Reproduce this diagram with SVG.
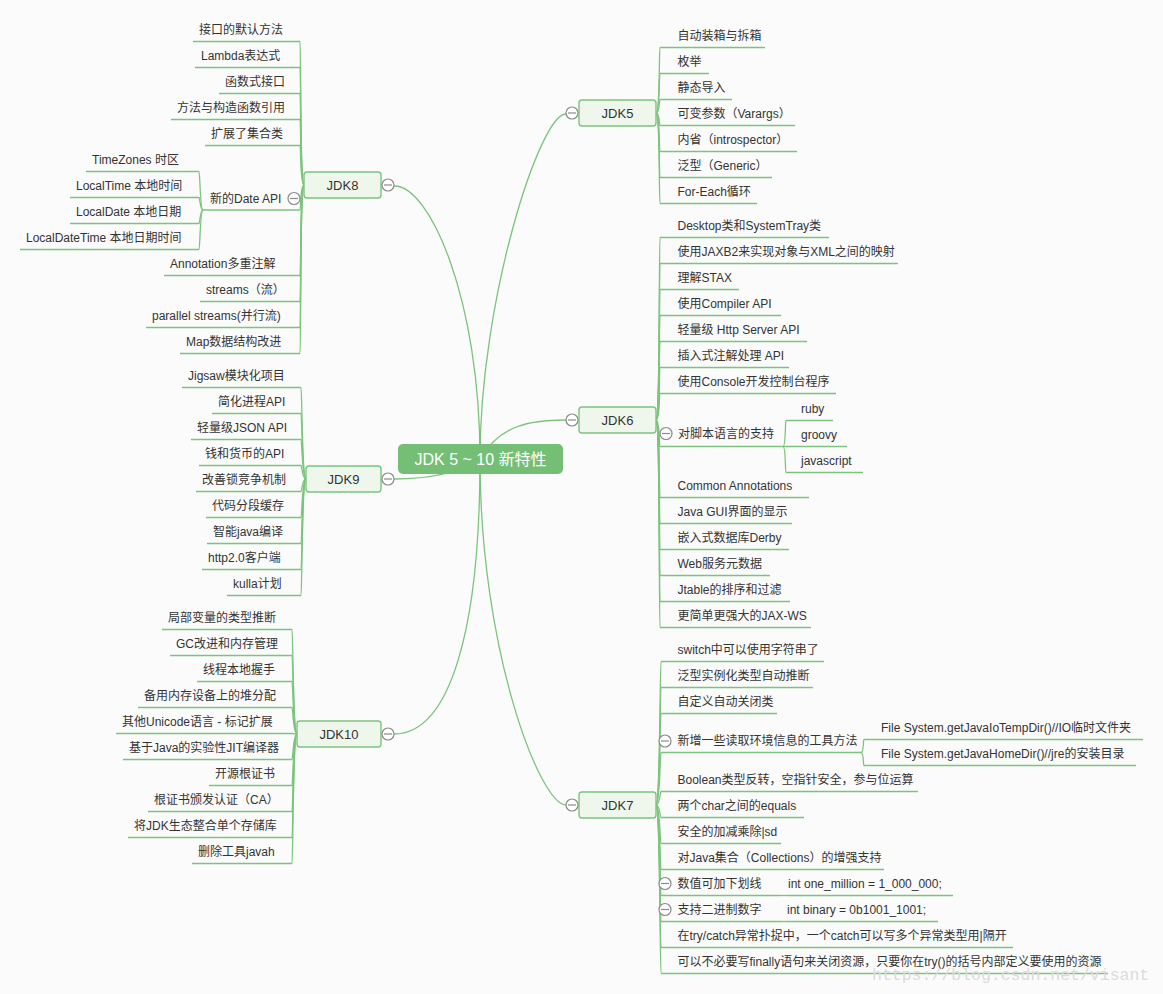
<svg xmlns="http://www.w3.org/2000/svg" width="1163" height="994" viewBox="0 0 1163 994">
<style>
.t{font-family:"Liberation Sans","Noto Sans CJK SC",sans-serif;font-size:12px;fill:#333}
.u{stroke:#7cc47d;stroke-width:1.3;fill:none}
.c path{stroke:#7cc47d;stroke-width:1.3;fill:none}
.nb{fill:#eff7ed;stroke:#7cc47d;stroke-width:1.4}
.nt{font-family:"Liberation Sans","Noto Sans CJK SC",sans-serif;font-size:13px;fill:#333;text-anchor:middle}
.rt{font-family:"Liberation Sans","Noto Sans CJK SC",sans-serif;font-size:16px;fill:#fff;text-anchor:middle}
.cb circle{fill:#fff;stroke:#8a8a8a;stroke-width:1.2}
.cb line{stroke:#8a8a8a;stroke-width:1.2}
.wm{font-family:"Liberation Mono",monospace;font-size:16.5px;fill:#dcdcdc}
</style>
<defs>
<g id="btn" class="cb"><circle cx="0" cy="0" r="6"/><line x1="-4" y1="0" x2="4" y2="0"/></g>
</defs>
<rect x="0" y="0" width="1163" height="994" fill="#fbfbfb"/>

<g id="connectors" class="c">
<!-- root to main topics -->
<path d="M480,459 C480,300 540,113 566,114"/>
<path d="M480,459 C500,425 530,420 566,420"/>
<path d="M480,459 C480,650 540,805 566,805"/>
<path d="M480,459 C480,300 430,185 394,186"/>
<path d="M480,459 C460,472 430,479 394,479"/>
<path d="M480,459 C480,630 450,734 394,734"/>
<!-- JDK8 -->
<path d="M304,185 C300,185 301,41.5 300,41.5"/>
<path d="M304,185 C300,185 301,67.5 300,67.5"/>
<path d="M304,185 C300,185 301,93.5 300,93.5"/>
<path d="M304,185 C300,185 301,119.5 300,119.5"/>
<path d="M304,185 C300,185 301,145.5 300,145.5"/>
<path d="M304,185 C300,185 301,210 300,210"/>
<path d="M304,185 C300,185 301,275.5 300,275.5"/>
<path d="M304,185 C300,185 301,301.5 300,301.5"/>
<path d="M304,185 C300,185 301,327.5 300,327.5"/>
<path d="M304,185 C300,185 301,353.5 300,353.5"/>
<path d="M203,210 C200,210 200,171.5 199,171.5"/>
<path d="M203,210 C200,210 200,197.5 199,197.5"/>
<path d="M203,210 C200,210 200,223.5 199,223.5"/>
<path d="M203,210 C200,210 200,249.5 199,249.5"/>
<!-- JDK9 -->
<path d="M306,479 C302,479 302,387.5 301,387.5"/>
<path d="M306,479 C302,479 302,413.5 301,413.5"/>
<path d="M306,479 C302,479 302,439.5 301,439.5"/>
<path d="M306,479 C302,479 302,465.5 301,465.5"/>
<path d="M306,479 C302,479 302,491.5 301,491.5"/>
<path d="M306,479 C302,479 302,517.5 301,517.5"/>
<path d="M306,479 C302,479 302,543.5 301,543.5"/>
<path d="M306,479 C302,479 302,569.5 301,569.5"/>
<path d="M306,479 C302,479 302,595.5 301,595.5"/>
<!-- JDK10 -->
<path d="M297,734 C293,734 293,629.5 292,629.5"/>
<path d="M297,734 C293,734 293,655.5 292,655.5"/>
<path d="M297,734 C293,734 293,681.5 292,681.5"/>
<path d="M297,734 C293,734 293,707.5 292,707.5"/>
<path d="M297,734 C293,734 293,733.5 292,733.5"/>
<path d="M297,734 C293,734 293,759.5 292,759.5"/>
<path d="M297,734 C293,734 293,785.5 292,785.5"/>
<path d="M297,734 C293,734 293,811.5 292,811.5"/>
<path d="M297,734 C293,734 293,837.5 292,837.5"/>
<path d="M297,734 C293,734 293,863.5 292,863.5"/>
<!-- JDK5 -->
<path d="M656,113 C660,113 659,47.5 660,47.5"/>
<path d="M656,113 C660,113 659,73.5 660,73.5"/>
<path d="M656,113 C660,113 659,99.5 660,99.5"/>
<path d="M656,113 C660,113 659,125.5 660,125.5"/>
<path d="M656,113 C660,113 659,151.5 660,151.5"/>
<path d="M656,113 C660,113 659,177.5 660,177.5"/>
<path d="M656,113 C660,113 659,203.5 660,203.5"/>
<!-- JDK6 -->
<path d="M656,420 C660,420 659,237.5 660,237.5"/>
<path d="M656,420 C660,420 659,263.5 660,263.5"/>
<path d="M656,420 C660,420 659,289.5 660,289.5"/>
<path d="M656,420 C660,420 659,315.5 660,315.5"/>
<path d="M656,420 C660,420 659,341.5 660,341.5"/>
<path d="M656,420 C660,420 659,367.5 660,367.5"/>
<path d="M656,420 C660,420 659,393.5 660,393.5"/>
<path d="M656,420 C660,420 659,446.5 660,446.5"/>
<path d="M656,420 C660,420 659,497.5 660,497.5"/>
<path d="M656,420 C660,420 659,523.5 660,523.5"/>
<path d="M656,420 C660,420 659,549.5 660,549.5"/>
<path d="M656,420 C660,420 659,575.5 660,575.5"/>
<path d="M656,420 C660,420 659,601.5 660,601.5"/>
<path d="M656,420 C660,420 659,627.5 660,627.5"/>
<path d="M783,446.5 C786,446.5 785,420.5 786,420.5"/>
<path d="M783,446.5 L786,446.5"/>
<path d="M783,446.5 C786,446.5 785,472.5 786,472.5"/>
<!-- JDK7 -->
<path d="M656,805 C660,805 660,661.5 661,661.5"/>
<path d="M656,805 C660,805 660,687.5 661,687.5"/>
<path d="M656,805 C660,805 660,713.5 661,713.5"/>
<path d="M656,805 C660,805 660,752.5 661,752.5"/>
<path d="M656,805 C660,805 660,791.5 661,791.5"/>
<path d="M656,805 C660,805 660,817.5 661,817.5"/>
<path d="M656,805 C660,805 660,843.5 661,843.5"/>
<path d="M656,805 C660,805 660,869.5 661,869.5"/>
<path d="M656,805 C660,805 660,895.5 661,895.5"/>
<path d="M656,805 C660,805 660,921.5 661,921.5"/>
<path d="M656,805 C660,805 660,947.5 661,947.5"/>
<path d="M656,805 C660,805 660,973.5 661,973.5"/>
<path d="M861,752.5 C864,752.5 863,739.5 864,739.5"/>
<path d="M861,752.5 C864,752.5 863,765.5 864,765.5"/>
<path d="M782,895.5 L786,895.5"/>
<path d="M782,921.5 L786,921.5"/>
</g>

<!-- root -->
<g id="root">
<rect x="398" y="444" width="165" height="30" rx="5" fill="#74bf75"/>
<text class="rt" x="480.5" y="465">JDK 5 ~ 10 新特性</text>
</g>

<!-- main topics -->
<g id="jdk5"><rect class="nb" x="579" y="100" width="77" height="26" rx="3"/><text class="nt" x="617.5" y="117.5">JDK5</text><use href="#btn" x="572" y="113"/></g>
<g id="jdk6"><rect class="nb" x="579" y="407" width="77" height="26" rx="3"/><text class="nt" x="617.5" y="424.5">JDK6</text><use href="#btn" x="572" y="420"/></g>
<g id="jdk7"><rect class="nb" x="579" y="792" width="77" height="26" rx="3"/><text class="nt" x="617.5" y="809.5">JDK7</text><use href="#btn" x="572" y="805"/></g>
<g id="jdk8"><rect class="nb" x="304" y="172" width="77" height="26" rx="3"/><text class="nt" x="342.5" y="189.5">JDK8</text><use href="#btn" x="388" y="185"/></g>
<g id="jdk9"><rect class="nb" x="306" y="466" width="75" height="26" rx="3"/><text class="nt" x="343.5" y="483.5">JDK9</text><use href="#btn" x="388" y="479"/></g>
<g id="jdk10"><rect class="nb" x="297" y="721" width="84" height="26" rx="3"/><text class="nt" x="339" y="738.5">JDK10</text><use href="#btn" x="388" y="734"/></g>

<!-- JDK8 children -->
<g id="j8-1"><line class="u" x1="193" y1="41.5" x2="300" y2="41.5"/><text class="t" x="199" y="33.5">接口的默认方法</text></g>
<g id="j8-2"><line class="u" x1="195" y1="67.5" x2="300" y2="67.5"/><text class="t" x="201" y="59.5">Lambda表达式</text></g>
<g id="j8-3"><line class="u" x1="219" y1="93.5" x2="300" y2="93.5"/><text class="t" x="225" y="85.5">函数式接口</text></g>
<g id="j8-4"><line class="u" x1="171" y1="119.5" x2="300" y2="119.5"/><text class="t" x="177" y="111.5">方法与构造函数引用</text></g>
<g id="j8-5"><line class="u" x1="205" y1="145.5" x2="300" y2="145.5"/><text class="t" x="211" y="137.5">扩展了集合类</text></g>
<g id="j8-6"><line class="u" x1="203" y1="210" x2="300" y2="210"/><text class="t" x="210" y="202.5">新的Date API</text><use href="#btn" x="294" y="198.5"/></g>
<g id="j8-6a"><line class="u" x1="86" y1="171.5" x2="199" y2="171.5"/><text class="t" x="92" y="163.5">TimeZones 时区</text></g>
<g id="j8-6b"><line class="u" x1="70" y1="197.5" x2="199" y2="197.5"/><text class="t" x="76" y="189.5">LocalTime 本地时间</text></g>
<g id="j8-6c"><line class="u" x1="70" y1="223.5" x2="199" y2="223.5"/><text class="t" x="76" y="215.5">LocalDate 本地日期</text></g>
<g id="j8-6d"><line class="u" x1="20" y1="249.5" x2="199" y2="249.5"/><text class="t" x="26" y="241.5">LocalDateTime 本地日期时间</text></g>
<g id="j8-7"><line class="u" x1="164" y1="275.5" x2="300" y2="275.5"/><text class="t" x="170" y="267.5">Annotation多重注解</text></g>
<g id="j8-8"><line class="u" x1="200" y1="301.5" x2="300" y2="301.5"/><text class="t" x="206" y="293.5">streams（流）</text></g>
<g id="j8-9"><line class="u" x1="146" y1="327.5" x2="300" y2="327.5"/><text class="t" x="152" y="319.5">parallel streams(并行流)</text></g>
<g id="j8-10"><line class="u" x1="180" y1="353.5" x2="300" y2="353.5"/><text class="t" x="186" y="345.5">Map数据结构改进</text></g>

<!-- JDK9 children -->
<g id="j9-1"><line class="u" x1="182" y1="387.5" x2="301" y2="387.5"/><text class="t" x="188" y="379.5">Jigsaw模块化项目</text></g>
<g id="j9-2"><line class="u" x1="212" y1="413.5" x2="301" y2="413.5"/><text class="t" x="218" y="405.5">简化进程API</text></g>
<g id="j9-3"><line class="u" x1="191" y1="439.5" x2="301" y2="439.5"/><text class="t" x="197" y="431.5">轻量级JSON API</text></g>
<g id="j9-4"><line class="u" x1="199" y1="465.5" x2="301" y2="465.5"/><text class="t" x="205" y="457.5">钱和货币的API</text></g>
<g id="j9-5"><line class="u" x1="196" y1="491.5" x2="301" y2="491.5"/><text class="t" x="202" y="483.5">改善锁竞争机制</text></g>
<g id="j9-6"><line class="u" x1="206" y1="517.5" x2="301" y2="517.5"/><text class="t" x="212" y="509.5">代码分段缓存</text></g>
<g id="j9-7"><line class="u" x1="207" y1="543.5" x2="301" y2="543.5"/><text class="t" x="213" y="535.5">智能java编译</text></g>
<g id="j9-8"><line class="u" x1="202" y1="569.5" x2="301" y2="569.5"/><text class="t" x="208" y="561.5">http2.0客户端</text></g>
<g id="j9-9"><line class="u" x1="227" y1="595.5" x2="301" y2="595.5"/><text class="t" x="233" y="587.5">kulla计划</text></g>

<!-- JDK10 children -->
<g id="j10-1"><line class="u" x1="162" y1="629.5" x2="292" y2="629.5"/><text class="t" x="168" y="621.5">局部变量的类型推断</text></g>
<g id="j10-2"><line class="u" x1="170" y1="655.5" x2="292" y2="655.5"/><text class="t" x="176" y="647.5">GC改进和内存管理</text></g>
<g id="j10-3"><line class="u" x1="197" y1="681.5" x2="292" y2="681.5"/><text class="t" x="203" y="673.5">线程本地握手</text></g>
<g id="j10-4"><line class="u" x1="138" y1="707.5" x2="292" y2="707.5"/><text class="t" x="144" y="699.5">备用内存设备上的堆分配</text></g>
<g id="j10-5"><line class="u" x1="116" y1="733.5" x2="292" y2="733.5"/><text class="t" x="122" y="725.5">其他Unicode语言 - 标记扩展</text></g>
<g id="j10-6"><line class="u" x1="123" y1="759.5" x2="292" y2="759.5"/><text class="t" x="129" y="751.5">基于Java的实验性JIT编译器</text></g>
<g id="j10-7"><line class="u" x1="209" y1="785.5" x2="292" y2="785.5"/><text class="t" x="215" y="777.5">开源根证书</text></g>
<g id="j10-8"><line class="u" x1="148" y1="811.5" x2="292" y2="811.5"/><text class="t" x="154" y="803.5">根证书颁发认证（CA）</text></g>
<g id="j10-9"><line class="u" x1="128" y1="837.5" x2="292" y2="837.5"/><text class="t" x="134" y="829.5">将JDK生态整合单个存储库</text></g>
<g id="j10-10"><line class="u" x1="192" y1="863.5" x2="292" y2="863.5"/><text class="t" x="198" y="855.5">删除工具javah</text></g>

<!-- JDK5 children -->
<g id="j5-1"><line class="u" x1="660" y1="47.5" x2="765" y2="47.5"/><text class="t" x="677.5" y="39.5">自动装箱与拆箱</text></g>
<g id="j5-2"><line class="u" x1="660" y1="73.5" x2="709" y2="73.5"/><text class="t" x="677.5" y="65.5">枚举</text></g>
<g id="j5-3"><line class="u" x1="660" y1="99.5" x2="732" y2="99.5"/><text class="t" x="677.5" y="91.5">静态导入</text></g>
<g id="j5-4"><line class="u" x1="660" y1="125.5" x2="795" y2="125.5"/><text class="t" x="677.5" y="117.5">可变参数（Varargs）</text></g>
<g id="j5-5"><line class="u" x1="660" y1="151.5" x2="797" y2="151.5"/><text class="t" x="677.5" y="143.5">内省（introspector）</text></g>
<g id="j5-6"><line class="u" x1="660" y1="177.5" x2="772" y2="177.5"/><text class="t" x="677.5" y="169.5">泛型（Generic）</text></g>
<g id="j5-7"><line class="u" x1="660" y1="203.5" x2="757" y2="203.5"/><text class="t" x="677.5" y="195.5">For-Each循环</text></g>

<!-- JDK6 children -->
<g id="j6-1"><line class="u" x1="660" y1="237.5" x2="829" y2="237.5"/><text class="t" x="677.5" y="229.5">Desktop类和SystemTray类</text></g>
<g id="j6-2"><line class="u" x1="660" y1="263.5" x2="898" y2="263.5"/><text class="t" x="677.5" y="255.5">使用JAXB2来实现对象与XML之间的映射</text></g>
<g id="j6-3"><line class="u" x1="660" y1="289.5" x2="739" y2="289.5"/><text class="t" x="677.5" y="281.5">理解STAX</text></g>
<g id="j6-4"><line class="u" x1="660" y1="315.5" x2="781" y2="315.5"/><text class="t" x="677.5" y="307.5">使用Compiler API</text></g>
<g id="j6-5"><line class="u" x1="660" y1="341.5" x2="807" y2="341.5"/><text class="t" x="677.5" y="333.5">轻量级 Http Server API</text></g>
<g id="j6-6"><line class="u" x1="660" y1="367.5" x2="789" y2="367.5"/><text class="t" x="677.5" y="359.5">插入式注解处理 API</text></g>
<g id="j6-7"><line class="u" x1="660" y1="393.5" x2="836" y2="393.5"/><text class="t" x="677.5" y="385.5">使用Console开发控制台程序</text></g>
<g id="j6-8"><line class="u" x1="660" y1="446.5" x2="783" y2="446.5"/><text class="t" x="678" y="438">对脚本语言的支持</text><use href="#btn" x="666" y="433.5"/></g>
<g id="j6-8a"><line class="u" x1="786" y1="420.5" x2="833" y2="420.5"/><text class="t" x="801" y="412.5">ruby</text></g>
<g id="j6-8b"><line class="u" x1="786" y1="446.5" x2="847" y2="446.5"/><text class="t" x="801" y="438.5">groovy</text></g>
<g id="j6-8c"><line class="u" x1="786" y1="472.5" x2="863" y2="472.5"/><text class="t" x="801" y="464.5">javascript</text></g>
<g id="j6-9"><line class="u" x1="660" y1="497.5" x2="809" y2="497.5"/><text class="t" x="677.5" y="489.5">Common Annotations</text></g>
<g id="j6-10"><line class="u" x1="660" y1="523.5" x2="792" y2="523.5"/><text class="t" x="677.5" y="515.5">Java GUI界面的显示</text></g>
<g id="j6-11"><line class="u" x1="660" y1="549.5" x2="789" y2="549.5"/><text class="t" x="677.5" y="541.5">嵌入式数据库Derby</text></g>
<g id="j6-12"><line class="u" x1="660" y1="575.5" x2="770" y2="575.5"/><text class="t" x="677.5" y="567.5">Web服务元数据</text></g>
<g id="j6-13"><line class="u" x1="660" y1="601.5" x2="790" y2="601.5"/><text class="t" x="677.5" y="593.5">Jtable的排序和过滤</text></g>
<g id="j6-14"><line class="u" x1="660" y1="627.5" x2="811" y2="627.5"/><text class="t" x="677.5" y="619.5">更简单更强大的JAX-WS</text></g>

<!-- JDK7 children -->
<g id="j7-1"><line class="u" x1="661" y1="661.5" x2="824" y2="661.5"/><text class="t" x="677.5" y="653.5">switch中可以使用字符串了</text></g>
<g id="j7-2"><line class="u" x1="661" y1="687.5" x2="813" y2="687.5"/><text class="t" x="677.5" y="679.5">泛型实例化类型自动推断</text></g>
<g id="j7-3"><line class="u" x1="661" y1="713.5" x2="777" y2="713.5"/><text class="t" x="677.5" y="705.5">自定义自动关闭类</text></g>
<g id="j7-4"><line class="u" x1="661" y1="752.5" x2="861" y2="752.5"/><text class="t" x="677.5" y="745">新增一些读取环境信息的工具方法</text><use href="#btn" x="665" y="741"/></g>
<g id="j7-4a"><line class="u" x1="864" y1="739.5" x2="1143" y2="739.5"/><text class="t" x="881" y="731.5">File System.getJavaIoTempDir()//IO临时文件夹</text></g>
<g id="j7-4b"><line class="u" x1="864" y1="765.5" x2="1136" y2="765.5"/><text class="t" x="881" y="757.5">File System.getJavaHomeDir()//jre的安装目录</text></g>
<g id="j7-5"><line class="u" x1="661" y1="791.5" x2="918" y2="791.5"/><text class="t" x="677.5" y="783.5">Boolean类型反转，空指针安全，参与位运算</text></g>
<g id="j7-6"><line class="u" x1="661" y1="817.5" x2="804" y2="817.5"/><text class="t" x="677.5" y="809.5">两个char之间的equals</text></g>
<g id="j7-7"><line class="u" x1="661" y1="843.5" x2="781" y2="843.5"/><text class="t" x="677.5" y="835.5">安全的加减乘除|sd</text></g>
<g id="j7-8"><line class="u" x1="661" y1="869.5" x2="884" y2="869.5"/><text class="t" x="677.5" y="861.5">对Java集合（Collections）的增强支持</text></g>
<g id="j7-9"><line class="u" x1="661" y1="895.5" x2="782" y2="895.5"/><text class="t" x="677.5" y="887.5">数值可加下划线</text><use href="#btn" x="665" y="883.5"/></g>
<g id="j7-9a"><line class="u" x1="786" y1="895.5" x2="953" y2="895.5"/><text class="t" x="788" y="887.5">int one_million = 1_000_000;</text></g>
<g id="j7-10"><line class="u" x1="661" y1="921.5" x2="782" y2="921.5"/><text class="t" x="677.5" y="913.5">支持二进制数字</text><use href="#btn" x="665" y="909.5"/></g>
<g id="j7-10a"><line class="u" x1="786" y1="921.5" x2="938" y2="921.5"/><text class="t" x="787" y="913.5">int binary = 0b1001_1001;</text></g>
<g id="j7-11"><line class="u" x1="661" y1="947.5" x2="1013" y2="947.5"/><text class="t" x="677.5" y="939.5">在try/catch异常扑捉中，一个catch可以写多个异常类型用|隔开</text></g>
<g id="j7-12"><line class="u" x1="661" y1="973.5" x2="1108" y2="973.5"/><text class="t" x="677.5" y="965.5">可以不必要写finally语句来关闭资源，只要你在try()的括号内部定义要使用的资源</text></g>

<text class="wm" x="872" y="980">https://blog.csdn.net/visant</text>
</svg>
